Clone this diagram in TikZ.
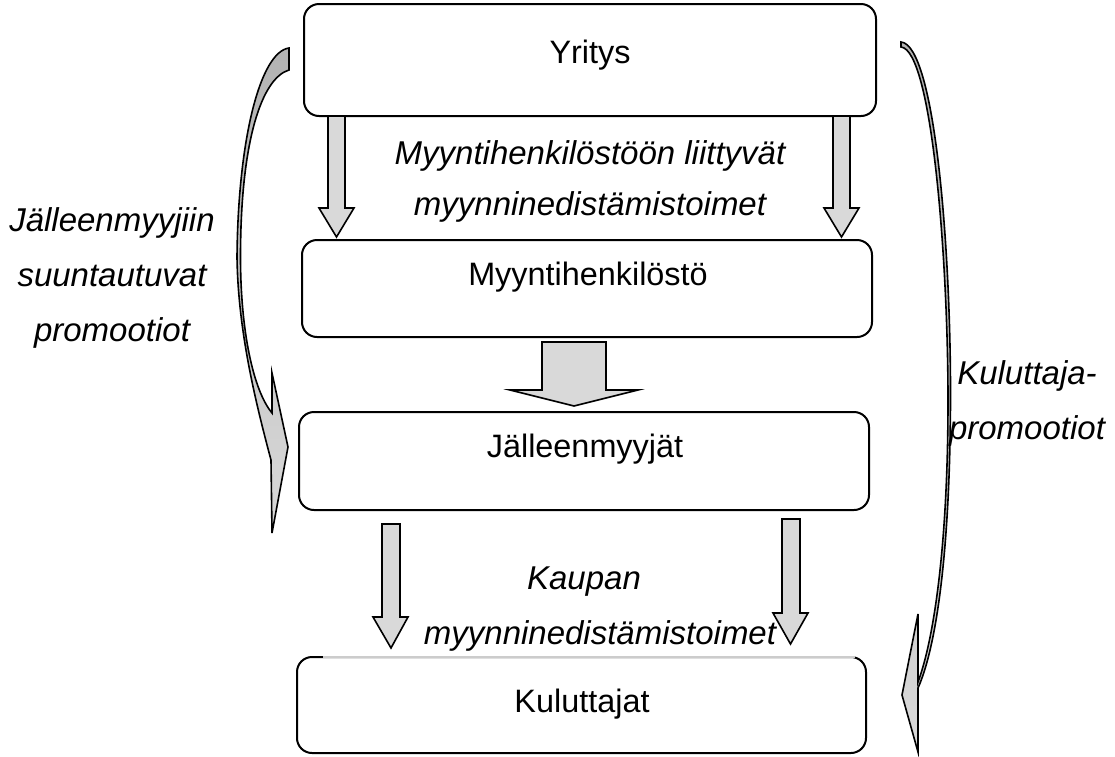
\documentclass[tikz,border=0pt]{standalone}
\usepackage{fontspec}
\setmainfont{Liberation Sans}
\begin{document}
\begin{tikzpicture}[x=0.5pt,y=-0.5pt,
  box/.style={draw=black,line width=1pt,rounded corners=7.5pt,fill=white,inner sep=0pt},
  boxtext/.style={anchor=base,font=\fontsize{16.2}{19}\selectfont},
  lbl/.style={align=center,font=\itshape\fontsize{16.5}{27.5}\selectfont},
  blockarrow/.style={draw=black,line width=0.8pt,fill=arrowgray,line join=miter},
  curvearrow/.style={draw=black,line width=0.8pt,top color=gray!60,bottom color=arrowgray,line join=miter}]
\definecolor{arrowgray}{RGB}{217,217,217}
\useasboundingbox (0,0) rectangle (1115,756);
% boxes
\node[box,minimum width=286pt,minimum height=56pt] (b1) at (590,60) {};
\node[box,minimum width=285pt,minimum height=48.5pt] (b2) at (587,288.5) {};
\node[box,minimum width=285pt,minimum height=49pt] (b3) at (584,461) {};
\node[box,minimum width=284.5pt,minimum height=48pt] (b4) at (581.5,705) {};
\draw[line width=1.1pt,white] (323,657) -- (855,657);
\draw[line width=0.6pt,gray!40] (323,657) -- (855,657);
\node[boxtext] (t1) at (590,63) {Yritys};
\node[boxtext] (t2) at (588,285) {Myyntihenkilöstö};
\node[boxtext] (t3) at (585,457) {Jälleenmyyjät};
\node[boxtext] (t4) at (582,712) {Kuluttajat};
% block arrows
\draw[blockarrow] (328,116) -- (328,208) -- (319,208) -- (336.5,237) -- (354,208) -- (345,208) -- (345,116) -- cycle;
\draw[blockarrow] (833,116) -- (833,208) -- (824,208) -- (841.5,237) -- (859,208) -- (850,208) -- (850,116) -- cycle;
\draw[blockarrow] (542,342) -- (542,390) -- (510,390) -- (574,406) -- (638,390) -- (606,390) -- (606,342) -- cycle;
\draw[blockarrow] (382,524) -- (382,617) -- (373,617) -- (391,648) -- (408,617) -- (400,617) -- (400,524) -- cycle;
\draw[blockarrow] (782,519) -- (782,613) -- (773,613) -- (790.5,644) -- (808,613) -- (800,613) -- (800,519) -- cycle;
% curved arrows
\draw[curvearrow] (289,48) .. controls (260,52) and (238,140) .. (237,257)
  .. controls (238,330) and (255,400) .. (271,460)
  -- (272,533) -- (288,447) -- (272,373) -- (272,413)
  .. controls (253,390) and (240.5,330) .. (240.5,257)
  .. controls (240.5,140) and (262,78) .. (289,70) -- cycle;
\draw[curvearrow] (901,42) .. controls (935,45) and (951,250) .. (950.5,400)
  .. controls (950,560) and (935,650) .. (918,688)
  -- (918,752) -- (902,695) -- (918,614) -- (918,682)
  .. controls (933,642) and (948,550) .. (948,400)
  .. controls (948,260) and (932,50) .. (901,47) -- cycle;
% labels
\node[lbl,font=\itshape\fontsize{16.5}{25.5}\selectfont] (l1) at (590,181) {Myyntihenkilöstöön liittyvät\\myynninedistämistoimet};
\node[lbl] (l2) at (112,278) {Jälleenmyyjiin\\suuntautuvat\\promootiot};
\node[lbl] (l3) at (1027,403) {Kuluttaja-\\promootiot};
\node[lbl] (l4) at (600,609) {Kaupan\hspace*{16pt}\\myynninedistämistoimet};
\end{tikzpicture}
\end{document}
